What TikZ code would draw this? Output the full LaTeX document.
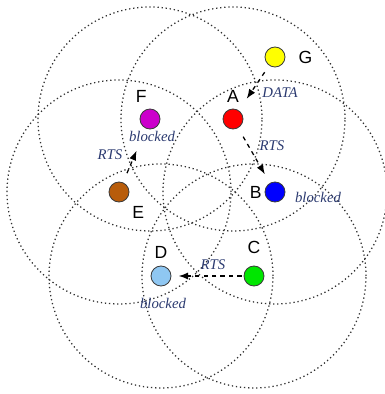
\documentclass[tikz,border=0pt]{standalone}
\usepackage{fontspec}
\setmainfont{Liberation Serif}
\setsansfont{Liberation Sans}
\definecolor{rangegray}{HTML}{303030}
\definecolor{rimgray}{HTML}{3A3A3A}
\definecolor{msgink}{HTML}{2B3A70}
\definecolor{stationG}{HTML}{FFFF00}
\definecolor{stationA}{HTML}{FF0000}
\definecolor{stationF}{HTML}{CC00CC}
\definecolor{stationB}{HTML}{0000FF}
\definecolor{stationE}{HTML}{B85C0A}
\definecolor{stationD}{HTML}{8FC7F2}
\definecolor{stationC}{HTML}{00E600}
\usetikzlibrary{arrows.meta,positioning}

\begin{document}
\begin{tikzpicture}[
  station/.style={circle,draw=rimgray,line width=0.6pt,minimum size=0.5cm,inner sep=0pt},
  tag/.style={inner sep=0pt,font=\sffamily\fontsize{12.5}{14}\selectfont},
  msg/.style={inner sep=0pt,msgink,font=\itshape\fontsize{10.5}{12}\selectfont},
  coverage/.style={rangegray,dotted,line width=0.9pt},
  send/.style={dashed,line width=0.9pt,-{Latex[length=2.4mm,width=1.8mm]}}
]
  \useasboundingbox (0,0) rectangle (9.625,9.85);
  \node[station,fill=stationG] (G) at (6.875,8.425) {};
  \node[station,fill=stationA] (A) at (5.825,6.875) {};
  \node[station,fill=stationF] (F) at (3.75,6.875) {};
  \node[station,fill=stationB] (B) at (6.875,5.05) {};
  \node[station,fill=stationE] (E) at (2.975,5.05) {};
  \node[station,fill=stationD] (D) at (4.025,2.95) {};
  \node[station,fill=stationC] (C) at (6.35,2.95) {};
  \foreach \n in {A,F,B,E,D,C}
    \draw[coverage] (\n) circle (2.8);
  \node[tag,right=0.32cm of G] (Gtag) {G};
  \node[tag,above=0.15cm of A] (Atag) {A};
  \node[tag,above=0.15cm of F,xshift=-0.22cm] (Ftag) {F};
  \node[tag,left=0.07cm of B] (Btag) {B};
  \node[tag,below right=0.17cm and 0.14cm of E] (Etag) {E};
  \node[tag,above=0.17cm of D] (Dtag) {D};
  \node[tag,above=0.28cm of C] (Ctag) {C};
  \node[msg] (data) at (7.0,7.525) {DATA};
  \node[msg] (rtsA) at (6.8,6.2) {RTS};
  \node[msg] (rtsE) at (2.75,5.975) {RTS};
  \node[msg] (rtsC) at (5.325,3.225) {RTS};
  \node[msg] (blockF) at (3.8,6.45) {blocked};
  \node[msg] (blockB) at (7.95,4.925) {blocked};
  \node[msg] (blockD) at (4.075,2.275) {blocked};
  \draw[send,shorten <=0.2cm,shorten >=0.35cm] (G) -- (A);
  \draw[send,shorten <=0.25cm,shorten >=0.25cm] (A) -- (B);
  \draw[send,shorten <=0.25cm,shorten >=0.6cm] (E) -- (F);
  \draw[send,shorten <=0.05cm,shorten >=0.18cm] (C) -- (D);
\end{tikzpicture}
\end{document}
